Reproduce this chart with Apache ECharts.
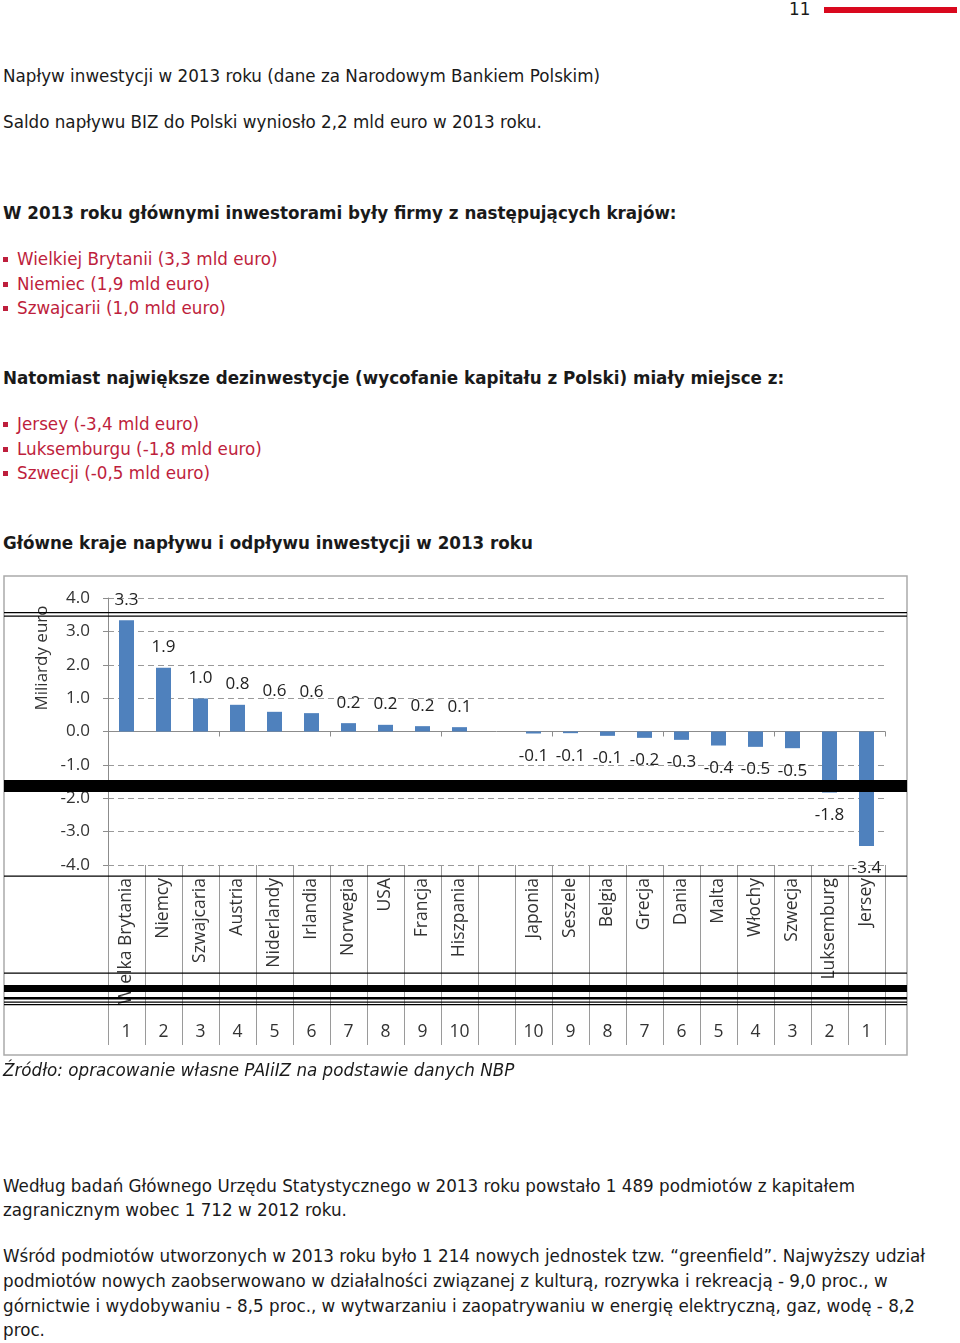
<!DOCTYPE html>
<html><head><meta charset="utf-8">
<script src="https://cdn.jsdelivr.net/npm/echarts@6/dist/echarts.min.js"></script>
<style>
html,body{margin:0;padding:0;background:#fff;}
body{width:960px;height:1343px;position:relative;overflow:hidden;font-family:"DejaVu Sans",sans-serif;color:#1a1a1a;font-size:16.75px;}
.t{position:absolute;left:3px;white-space:nowrap;line-height:24px;height:24px;margin-top:1px;}
.b{font-weight:bold;}
.r{color:#BE1E3C;left:17px;}
.sq{position:absolute;left:3px;width:5px;height:5px;background:#BE1E3C;margin-top:1px;}
.i{font-style:italic;}
#chart{position:absolute;left:0;top:570px;width:960px;height:500px;}
</style></head>
<body>
<div class="t" style="left:789px;top:-4px;">11</div>
<div style="position:absolute;left:824px;top:7px;width:133px;height:6px;background:#D9081E;"></div>

<div class="t" style="top:63px;">Napływ inwestycji w 2013 roku (dane za Narodowym Bankiem Polskim)</div>
<div class="t" style="top:109px;">Saldo napływu BIZ do Polski wyniosło 2,2 mld euro w 2013 roku.</div>
<div class="t b" style="top:200px;">W 2013 roku głównymi inwestorami były firmy z następujących krajów:</div>
<div class="sq" style="top:256px;"></div><div class="t r" style="top:246px;">Wielkiej Brytanii (3,3 mld euro)</div>
<div class="sq" style="top:281px;"></div><div class="t r" style="top:271px;">Niemiec (1,9 mld euro)</div>
<div class="sq" style="top:305px;"></div><div class="t r" style="top:295px;">Szwajcarii (1,0 mld euro)</div>
<div class="t b" style="top:365px;">Natomiast największe dezinwestycje (wycofanie kapitału z Polski) miały miejsce z:</div>
<div class="sq" style="top:421px;"></div><div class="t r" style="top:411px;">Jersey (-3,4 mld euro)</div>
<div class="sq" style="top:446px;"></div><div class="t r" style="top:436px;">Luksemburgu (-1,8 mld euro)</div>
<div class="sq" style="top:470px;"></div><div class="t r" style="top:460px;">Szwecji (-0,5 mld euro)</div>
<div class="t b" style="top:530px;">Główne kraje napływu i odpływu inwestycji w 2013 roku</div>

<div id="chart"></div>

<div class="t i" style="top:1057px;">Źródło: opracowanie własne PAIiIZ na podstawie danych NBP</div>
<div class="t" style="top:1173px;">Według badań Głównego Urzędu Statystycznego w 2013 roku powstało 1 489 podmiotów z kapitałem</div>
<div class="t" style="top:1197px;">zagranicznym wobec 1 712 w 2012 roku.</div>
<div class="t" style="top:1243px;">Wśród podmiotów utworzonych w 2013 roku było 1 214 nowych jednostek tzw. “greenfield”. Najwyższy udział</div>
<div class="t" style="top:1268px;">podmiotów nowych zaobserwowano w działalności związanej z kulturą, rozrywka i rekreacją - 9,0 proc., w</div>
<div class="t" style="top:1293px;">górnictwie i wydobywaniu - 8,5 proc., w wytwarzaniu i zaopatrywaniu w energię elektryczną, gaz, wodę - 8,2</div>
<div class="t" style="top:1317px;">proc.</div>

<script>
// ---- data ----
var categories = ['Wielka Brytania','Niemcy','Szwajcaria','Austria','Niderlandy','Irlandia','Norwegia','USA','Francja','Hiszpania','',
  'Japonia','Seszele','Belgia','Grecja','Dania','Malta','Włochy','Szwecja','Luksemburg','Jersey'];
var values = [3.33, 1.91, 0.99, 0.80, 0.59, 0.55, 0.25, 0.20, 0.16, 0.13, null,
  -0.06, -0.05, -0.13, -0.19, -0.25, -0.42, -0.46, -0.50, -1.83, -3.43];
var valueLabels = ['3.3','1.9','1.0','0.8','0.6','0.6','0.2','0.2','0.2','0.1','',
  '-0.1','-0.1','-0.1','-0.2','-0.3','-0.4','-0.5','-0.5','-1.8','-3.4'];
var rankLabels = ['1','2','3','4','5','6','7','8','9','10','','10','9','8','7','6','5','4','3','2','1'];
var yTicks = {min:-4, max:4, interval:1};
var axisTitle = 'Miliardy euro';

var FONT = '"Open Sans", sans-serif';
var chart = echarts.init(document.getElementById('chart'), null, {renderer:'canvas'});

var barData = values.map(function(v, i){
  if (v === null) return '-';
  return {value: v, label: {position: v < 0 ? 'bottom' : 'top', distance: v < 0 ? 14 : 12,
    formatter: valueLabels[i]}};
});

function hline(y, h){
  return {type:'rect', shape:{x:4, y:y, width:903, height:h}, style:{fill:'#000'}, z:100, silent:true};
}

chart.setOption({
  animation:false,
  grid:{left:108, right:75, top:28, bottom:205, containLabel:false},
  xAxis:[
    {type:'category', data:categories, boundaryGap:true,
     axisLine:{show:true, onZero:true, lineStyle:{color:'#8c8c8c', width:1}},
     axisTick:{show:true, length:5, lineStyle:{color:'#8c8c8c'}},
     axisLabel:{show:false}, splitLine:{show:false}},
    {type:'category', data:categories, boundaryGap:true, position:'bottom', offset:0,
     axisLine:{show:false, onZero:false},
     axisTick:{show:true, length:180, lineStyle:{color:'#9a9a9a', width:1}},
     axisLabel:{show:true, rotate:90, margin:13, interval:0, fontFamily:FONT, fontSize:17.5, color:'#333'},
     splitLine:{show:false}},
    {type:'category', data:rankLabels, boundaryGap:true, position:'bottom', offset:158,
     axisLine:{show:false, onZero:false}, axisTick:{show:false},
     axisLabel:{show:true, margin:0, interval:0, fontFamily:FONT, fontSize:17.5, color:'#333'},
     splitLine:{show:false}}
  ],
  yAxis:{type:'value', min:yTicks.min, max:yTicks.max, interval:yTicks.interval,
    axisLine:{show:true, lineStyle:{color:'#8c8c8c'}},
    axisTick:{show:true, length:5, lineStyle:{color:'#8c8c8c'}},
    axisLabel:{margin:18, fontFamily:FONT, fontSize:17, color:'#333',
      formatter:function(v){return v.toFixed(1);}},
    splitLine:{show:true, lineStyle:{color:'#9a9a9a', type:[6,4], width:1}}},
  series:[{type:'bar', data:barData, xAxisIndex:0, barWidth:15,
    itemStyle:{color:'#4F81BD'},
    label:{show:true, fontFamily:FONT, fontSize:17, color:'#222'}}],
  graphic:[
    {type:'rect', shape:{x:4, y:6, width:903, height:479}, style:{fill:'none', stroke:'#ababab', lineWidth:1.5}, z:90, silent:true},
    {type:'text', x:42, y:88, rotation:Math.PI/2, style:{text:axisTitle, font:'17px ' + FONT, fill:'#333', align:'center', verticalAlign:'middle'}, z:50, silent:true},
    hline(42, 1.2), hline(45.5, 1.2),
    hline(210, 12),
    hline(305.5, 1.2),
    hline(402.5, 1.2),
    hline(415, 7), hline(427, 2.5), hline(431.5, 1.2), hline(434, 1.2)
  ]
});
</script>
</body></html>
